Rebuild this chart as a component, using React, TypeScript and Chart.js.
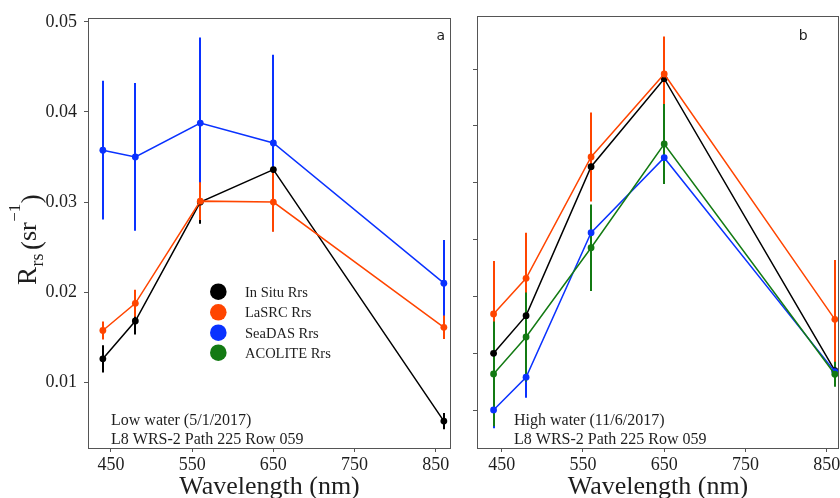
import React, { useEffect, useRef } from "react";
import { Chart, registerables } from "chart.js";

Chart.register(...registerables);

// ---------- data ----------
const wavelengths = [440, 480, 560, 650, 860];
const xTickValues = [450, 550, 650, 750, 850];
const lowYTickValues = [0.01, 0.02, 0.03, 0.04, 0.05];
const highYTickValues = [0.005, 0.01, 0.015, 0.02, 0.025, 0.03, 0.035];

const seriesNames = ["In Situ Rrs", "LaSRC Rrs", "SeaDAS Rrs", "ACOLITE Rrs"];
const seriesColors = ["#000000", "#FF4500", "#0A32FF", "#137A13"];

// Panel a – low water (5/1/2017)
const lowInSitu = [0.0126, 0.0168, 0.03, 0.0336, 0.0057];
const lowInSituErr = [0.0015, 0.0015, 0.0024, 0.0005, 0.0009];
const lowLaSRC = [0.01575, 0.01876, 0.0301, 0.03, 0.0161];
const lowLaSRCErr = [0.001, 0.0015, 0.0021, 0.0033, 0.0013];
const lowSeaDAS = [0.03575, 0.035, 0.03876, 0.03655, 0.021];
const lowSeaDASErr = [0.0077, 0.0082, 0.0095, 0.0098, 0.0048];

// Panel b – high water (11/6/2017)
const highInSitu = [0.01006, 0.01336, 0.02643, 0.03415, 0.00853];
const highInSituErr = [0.0006, 0.0006, 0.0006, 0.0006, 0.0008];
const highLaSRC = [0.01351, 0.01664, 0.02728, 0.03456, 0.01304];
const highLaSRCErr = [0.00465, 0.004, 0.0039, 0.0033, 0.0052];
const highSeaDAS = [0.00509, 0.00796, 0.02064, 0.02722, 0.00845];
const highSeaDASErr = [0.0016, 0.0018, 0.001, 0.001, 0.0011];
const highACOLITE = [0.00825, 0.01149, 0.01932, 0.02842, 0.00822];
const highACOLITEErr = [0.0046, 0.0039, 0.0038, 0.0035, 0.0011];

const lowNotes = ["Low water (5/1/2017)", "L8 WRS-2 Path 225 Row 059"];
const highNotes = ["High water (11/6/2017)", "L8 WRS-2 Path 225 Row 059"];

// ---------- styling ----------
const SERIF = '"Liberation Serif", "Times New Roman", serif';
const SANS = '"DejaVu Sans", sans-serif';
const TEXT = "#1e1e1e";
const FRAME = "#555555";

function makeDataset(idx: number, values: number[], errors: number[]) {
  const color = seriesColors[idx];
  return {
    label: seriesNames[idx],
    data: wavelengths.map((w, i) => ({ x: w, y: values[i] })),
    errors,
    borderColor: color,
    backgroundColor: color,
    pointBackgroundColor: color,
    pointBorderColor: color,
    pointRadius: 3.4,
    pointBorderWidth: 0,
    borderWidth: 1.5,
    tension: 0,
    order: 3 - idx,
  };
}

function decorPlugin(opts: {
  barOrder: number[];
  notes: string[];
  notesX: number;
  letter: string;
  letterX: number;
  legend: boolean;
  yTitle: boolean;
}) {
  return {
    id: "decor",
    beforeDatasetsDraw(chart: any) {
      const { ctx, chartArea } = chart;
      const xs = chart.scales.x;
      const ys = chart.scales.y;
      ctx.save();
      ctx.beginPath();
      ctx.rect(chartArea.left, chartArea.top, chartArea.right - chartArea.left, chartArea.bottom - chartArea.top);
      ctx.clip();
      ctx.lineWidth = 2;
      ctx.lineCap = "butt";
      for (const idx of opts.barOrder) {
        const ds = chart.data.datasets[idx];
        ctx.strokeStyle = ds.borderColor;
        ds.data.forEach((p: any, j: number) => {
          const e = ds.errors[j];
          const px = Math.round(xs.getPixelForValue(p.x));
          ctx.beginPath();
          ctx.moveTo(px, ys.getPixelForValue(p.y - e));
          ctx.lineTo(px, ys.getPixelForValue(p.y + e));
          ctx.stroke();
        });
      }
      ctx.restore();
    },
    afterDraw(chart: any) {
      const { ctx, chartArea } = chart;
      const { left, top, right, bottom } = chartArea;
      const ox = chart.canvas.offsetLeft || 0;
      ctx.save();
      // frame
      ctx.strokeStyle = FRAME;
      ctx.lineWidth = 1;
      ctx.strokeRect(Math.round(left) + 0.5, Math.round(top) + 0.5, Math.round(right - left) - 1, Math.round(bottom - top));

      ctx.fillStyle = TEXT;
      // panel letter
      ctx.font = `14px ${SANS}`;
      ctx.textAlign = "center";
      ctx.textBaseline = "alphabetic";
      ctx.fillText(opts.letter, opts.letterX - ox, 39.5);

      // notes
      ctx.font = `16px ${SERIF}`;
      ctx.textAlign = "left";
      ctx.fillText(opts.notes[0], opts.notesX - ox, 424.5);
      ctx.fillText(opts.notes[1], opts.notesX - ox, 444.3);

      // x title
      ctx.font = `26px ${SERIF}`;
      ctx.textAlign = "center";
      ctx.fillText("Wavelength (nm)", (left + right) / 2, 493.5);

      // legend
      if (opts.legend) {
        const rows = [291.7, 312.3, 332.7, 352.7];
        seriesNames.forEach((name, i) => {
          ctx.fillStyle = seriesColors[i];
          ctx.beginPath();
          ctx.arc(218.3 - ox, rows[i], 8.3, 0, Math.PI * 2);
          ctx.fill();
          ctx.fillStyle = TEXT;
          ctx.font = `14.5px ${SERIF}`;
          ctx.textAlign = "left";
          ctx.fillText(name, 245 - ox, rows[i] + 5);
        });
      }

      // y title  R_rs (sr^-1)
      if (opts.yTitle) {
        ctx.save();
        ctx.translate(36, 285);
        ctx.rotate(-Math.PI / 2);
        ctx.fillStyle = TEXT;
        ctx.textAlign = "left";
        ctx.textBaseline = "alphabetic";
        let x = 0;
        const put = (t: string, size: number, dy: number, gapAfter: number) => {
          ctx.font = `${size}px ${SERIF}`;
          ctx.fillText(t, x, dy);
          x += ctx.measureText(t).width + gapAfter;
        };
        put("R", 27, 0, 0.5);
        put("rs", 18, 7, 3.5);
        put("(", 27, 4, 0);
        put("sr", 26, 0, 0.5);
        put("\u22121", 17, -16, 0.5);
        put(")", 27, 4, 0);
        ctx.restore();
      }
      ctx.restore();
    },
  };
}

function buildConfig(p: {
  datasets: any[];
  xMin: number;
  xMax: number;
  yMin: number;
  yMax: number;
  yTicks: number[];
  showYLabels: boolean;
  yWidth: number;
  padRight: number;
  plugin: any;
}) {
  return {
    type: "line" as const,
    data: { datasets: p.datasets },
    options: {
      responsive: false,
      maintainAspectRatio: false,
      animation: false as const,
      events: [],
      layout: { padding: { left: 0, top: 16, right: p.padRight, bottom: 0 }, autoPadding: false },
      plugins: { legend: { display: false }, tooltip: { enabled: false }, title: { display: false } },
      scales: {
        x: {
          type: "linear" as const,
          min: p.xMin,
          max: p.xMax,
          afterBuildTicks: (s: any) => {
            s.ticks = xTickValues.map((v) => ({ value: v }));
          },
          afterFit: (s: any) => {
            s.height = 50;
          },
          border: { display: false },
          grid: { drawOnChartArea: false, drawTicks: true, tickLength: 4, color: FRAME, lineWidth: 1 },
          ticks: {
            autoSkip: false,
            maxRotation: 0,
            padding: 2,
            color: TEXT,
            font: { family: SERIF, size: 18 },
            callback: (v: any) => String(v),
          },
        },
        y: {
          type: "linear" as const,
          min: p.yMin,
          max: p.yMax,
          afterBuildTicks: (s: any) => {
            s.ticks = p.yTicks.map((v) => ({ value: v }));
          },
          afterFit: (s: any) => {
            s.width = p.yWidth;
          },
          border: { display: false },
          grid: { drawOnChartArea: false, drawTicks: true, tickLength: 4, color: FRAME, lineWidth: 1 },
          ticks: {
            display: p.showYLabels,
            padding: 7,
            color: TEXT,
            font: { family: SERIF, size: 18 },
            callback: (v: any) => String(Number(v).toFixed(2)),
          },
        },
      },
    },
    plugins: [p.plugin],
  };
}

function ChartCanvas({ left, width, config }: { left: number; width: number; config: () => any }) {
  const ref = useRef<HTMLCanvasElement>(null);
  useEffect(() => {
    const chart = new Chart(ref.current as HTMLCanvasElement, config());
    return () => chart.destroy();
  }, []);
  return (
    <canvas
      ref={ref}
      width={width}
      height={498}
      style={{ position: "absolute", left, top: 0, width, height: 498 }}
    />
  );
}

export default function App() {
  const leftConfig = () =>
    buildConfig({
      datasets: [
        makeDataset(0, lowInSitu, lowInSituErr),
        makeDataset(1, lowLaSRC, lowLaSRCErr),
        makeDataset(2, lowSeaDAS, lowSeaDASErr),
      ],
      xMin: 421.7,
      xMax: 868.8,
      yMin: 0.00271,
      yMax: 0.05044,
      yTicks: lowYTickValues,
      showYLabels: true,
      yWidth: 88,
      padRight: 9,
      plugin: decorPlugin({
        barOrder: [0, 2, 1],
        notes: lowNotes,
        notesX: 111,
        letter: "a",
        letterX: 440.7,
        legend: true,
        yTitle: true,
      }),
    });

  const rightConfig = () =>
    buildConfig({
      datasets: [
        makeDataset(0, highInSitu, highInSituErr),
        makeDataset(1, highLaSRC, highLaSRCErr),
        makeDataset(2, highSeaDAS, highSeaDASErr),
        makeDataset(3, highACOLITE, highACOLITEErr),
      ],
      xMin: 419.6,
      xMax: 865.1,
      yMin: 0.00175,
      yMax: 0.03965,
      yTicks: highYTickValues,
      showYLabels: false,
      yWidth: 17,
      padRight: 31,
      plugin: decorPlugin({
        barOrder: [0, 2, 1, 3],
        notes: highNotes,
        notesX: 514,
        letter: "b",
        letterX: 803.3,
        legend: false,
        yTitle: false,
      }),
    });

  return (
    <div
      style={{
        position: "fixed",
        left: 0,
        top: 0,
        width: 840,
        height: 498,
        overflow: "hidden",
        background: "#ffffff",
      }}
    >
      <ChartCanvas left={0} width={460} config={leftConfig} />
      <ChartCanvas left={460} width={410} config={rightConfig} />
    </div>
  );
}
